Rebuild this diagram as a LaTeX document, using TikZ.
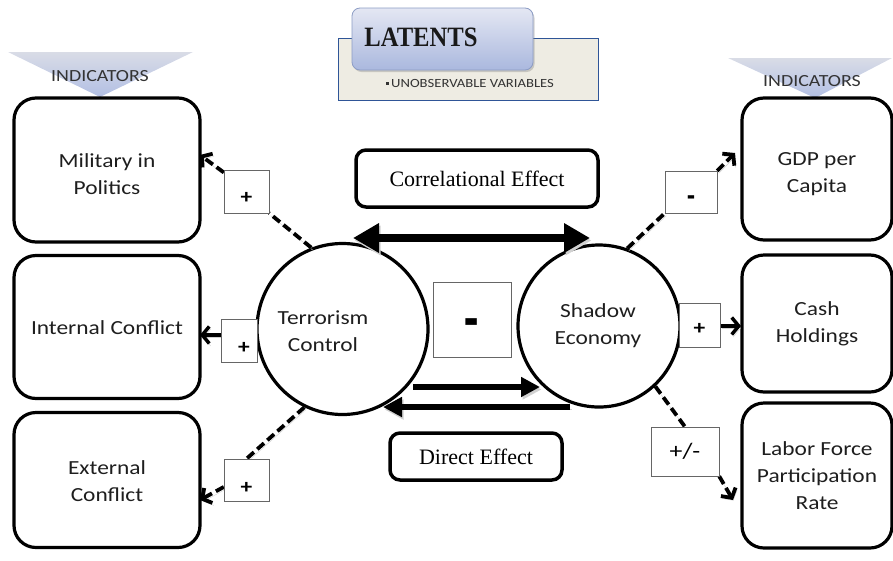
\documentclass[tikz,border=0pt]{standalone}
\usepackage{fontspec}
\setmainfont[FakeStretch=1.17]{Carlito}
\newfontfamily\tnr{Liberation Serif}
\newfontfamily\latfont[FakeStretch=0.88]{Liberation Serif}
\usetikzlibrary{arrows.meta,shadows}
\definecolor{txt}{HTML}{1E1E1E}
\definecolor{indtop}{HTML}{D9DCE6}
\definecolor{indbot}{HTML}{B2BFE4}
\definecolor{tabtop}{HTML}{E4E7F3}
\definecolor{tabbot}{HTML}{AAB8DE}
\definecolor{tabedge}{HTML}{8C9CC4}
\definecolor{backfill}{HTML}{EEECE3}
\definecolor{backedge}{HTML}{2F5597}
\newcommand{\signat}[2]{\raisebox{#1}[0pt][0pt]{#2}}
\begin{document}
\begin{tikzpicture}[x=1pt,y=-1pt,
  indbox/.style={draw, line width=3.2pt, rounded corners=22pt, inner sep=0pt},
  boxtext/.style={align=center, font=\fontsize{20}{27}\selectfont, text=txt},
  latent/.style={draw, circle, line width=3.2pt, inner sep=0pt},
  sbox/.style={draw=black!60, line width=0.8pt, fill=white, inner sep=0pt,
    font=\fontsize{20}{20}\selectfont\bfseries},
  effbox/.style={draw, line width=3.5pt, rounded corners=10pt, inner sep=0pt,
    font=\tnr\fontsize{22}{22}\selectfont},
  shad/.style={preaction={draw=black!18, transform canvas={shift={(1.5pt,-2.5pt)}}}},
  dline/.style={line width=3.8pt, dash pattern=on 9pt off 4.5pt, shad},
  darr/.style={dline, -{Straight Barb[length=7pt,width=17pt]}},
  sarr/.style={line width=3.5pt, shad, -{Straight Barb[length=7pt,width=17pt]}},
  bigarr/.style={line width=7.5pt, shad, {Triangle[length=26pt,width=28pt]}-{Triangle[length=26pt,width=28pt]}},
  medarr/.style={line width=6pt, shad, -{Triangle[length=19pt,width=19pt]}},
  indlabel/.style={font=\fontsize{17}{17}\selectfont, text=black!80}
]
\useasboundingbox (0,0) rectangle (893,560);

% INDICATORS triangles
\shade[top color=indtop, bottom color=indbot] (8,52) -- (193,52) -- (100,97) -- cycle;
\node[indlabel] (ind1) at (100,76) {INDICATORS};
\shade[top color=indtop, bottom color=indbot] (728,58) -- (892,58) -- (815,98) -- cycle;
\node[indlabel] (ind2) at (812,81) {INDICATORS};

% LATENTS legend
\node[draw=backedge, line width=1pt, fill=backfill, minimum width=260pt, minimum height=62pt] (back) at (468,69) {};
\node[draw=tabedge, line width=0.8pt, rounded corners=8pt, top color=tabtop, bottom color=tabbot,
  minimum width=181pt, minimum height=62pt, drop shadow={opacity=0.35, shadow xshift=1.5pt, shadow yshift=-2pt}] (tab) at (442.5,39) {};
\node[font=\latfont\bfseries\fontsize{28}{28}\selectfont, text=black!90] (lattitle) at (421,37) {LATENTS};
\node[font=\fontsize{12.5}{12.5}\selectfont, text=black!80] (latsub) at (470,83)
  {\raisebox{2.5pt}{\rule{3pt}{3pt}}\,UNOBSERVABLE VARIABLES};

% indicator boxes
\node[indbox, minimum width=186pt, minimum height=144pt] (mil) at (107,170) {};
\node[boxtext] (milt) at (107,174) {Military in\\Politics};
\node[indbox, minimum width=186pt, minimum height=143pt] (int) at (107,327) {};
\node[boxtext] (intt) at (107,328) {Internal Conflict};
\node[indbox, minimum width=186pt, minimum height=135pt] (ext) at (107,480) {};
\node[boxtext] (extt) at (107,481) {External\\Conflict};
\node[indbox, minimum width=150pt, minimum height=142pt] (gdp) at (817,169) {};
\node[boxtext] (gdpt) at (817,174) {GDP per\\Capita};
\node[indbox, minimum width=150pt, minimum height=137pt] (cash) at (817,323.5) {};
\node[boxtext] (casht) at (817,324) {Cash\\Holdings};
\node[indbox, minimum width=150pt, minimum height=145pt] (lab) at (817,475.5) {};
\node[boxtext] (labt) at (817,476) {Labor Force\\Participation\\Rate};

% latent circles
\node[latent, minimum size=171pt] (tc) at (342.5,329) {};
\node[boxtext] (tct) at (323,331) {Terrorism\\Control};
\node[latent, minimum size=162pt] (se) at (599,326) {};
\node[boxtext] (set) at (598,326) {Shadow\\Economy};

% effect boxes
\node[effbox, minimum width=242pt, minimum height=57pt] (corr) at (477,178.5) {Correlational Effect};
\node[effbox, minimum width=172pt, minimum height=47pt] (dir) at (476,456.5) {Direct Effect};

% free ends
\coordinate (a1) at (200,155);
\coordinate (a2) at (200,335);
\coordinate (a3) at (200,500);
\coordinate (a4) at (735,153);
\coordinate (a5) at (741,326);
\coordinate (a6) at (733,500);
\coordinate (c1) at (353,238);
\coordinate (c2) at (590,238);
\coordinate (d1) at (413,387);
\coordinate (d2) at (540,387);
\coordinate (d3) at (570,407);
\coordinate (d4) at (383,407);

% sign box frames (for anchors)
\node[minimum width=45pt, minimum height=43pt, inner sep=0pt] (p1) at (246.5,191.5) {};
\node[minimum width=36pt, minimum height=43pt, inner sep=0pt] (p2) at (239,340.5) {};
\node[minimum width=45pt, minimum height=42pt, inner sep=0pt] (p3) at (246.5,480) {};
\node[minimum width=52pt, minimum height=42pt, inner sep=0pt] (m1) at (691,192) {};
\node[minimum width=41pt, minimum height=44pt, inner sep=0pt] (p4) at (699.5,325) {};
\node[minimum width=68pt, minimum height=49pt, inner sep=0pt] (pm) at (685,451.5) {};

% connectors
\draw[dline] (tc.111) -- (p1.south east);
\draw[darr] (p1.140) -- (a1);
\draw[sarr] (p2.west |- a2) -- (a2);
\draw[dline] (tc.244) -- (p3.north);
\draw[darr] (p3.197) -- (a3);
\draw[dline] (se.70) -- (m1.south west);
\draw[darr] (m1.north east) -- (a4);
\draw[sarr] (p4.east |- a5) -- (a5);
\draw[dline] (se.313) -- (pm.north);
\draw[darr] (pm.south east) -- (a6);

% sign boxes drawn
\node[sbox, minimum width=45pt, minimum height=43pt] (p1b) at (p1) {\signat{-12pt}{+}};
\node[sbox, minimum width=36pt, minimum height=43pt] (p2b) at (p2) {\signat{-13pt}{\hspace{10pt}+}};
\node[sbox, minimum width=45pt, minimum height=42pt] (p3b) at (p3) {\signat{-13.5pt}{+}};
\node[sbox, minimum width=52pt, minimum height=42pt] (m1b) at (m1) {\signat{-14.5pt}{\scalebox{1.1}[1.6]{-}}};
\node[sbox, minimum width=41pt, minimum height=44pt] (p4b) at (p4) {\signat{-9.5pt}{+}};
\node[sbox, minimum width=68pt, minimum height=49pt, font=\fontsize{22}{22}\selectfont] (pmb) at (pm) {+/-};
\node[sbox, minimum width=78pt, minimum height=75pt, font=\fontsize{36}{36}\selectfont\bfseries] (mbig) at (472,319.5) {\signat{-21pt}{\scalebox{1.1}[1.8]{-}}};

% effect arrows
\draw[bigarr] (c1) -- (c2);
\draw[medarr] (d1) -- (d2);
\draw[medarr] (d3) -- (d4);
\end{tikzpicture}
\end{document}
